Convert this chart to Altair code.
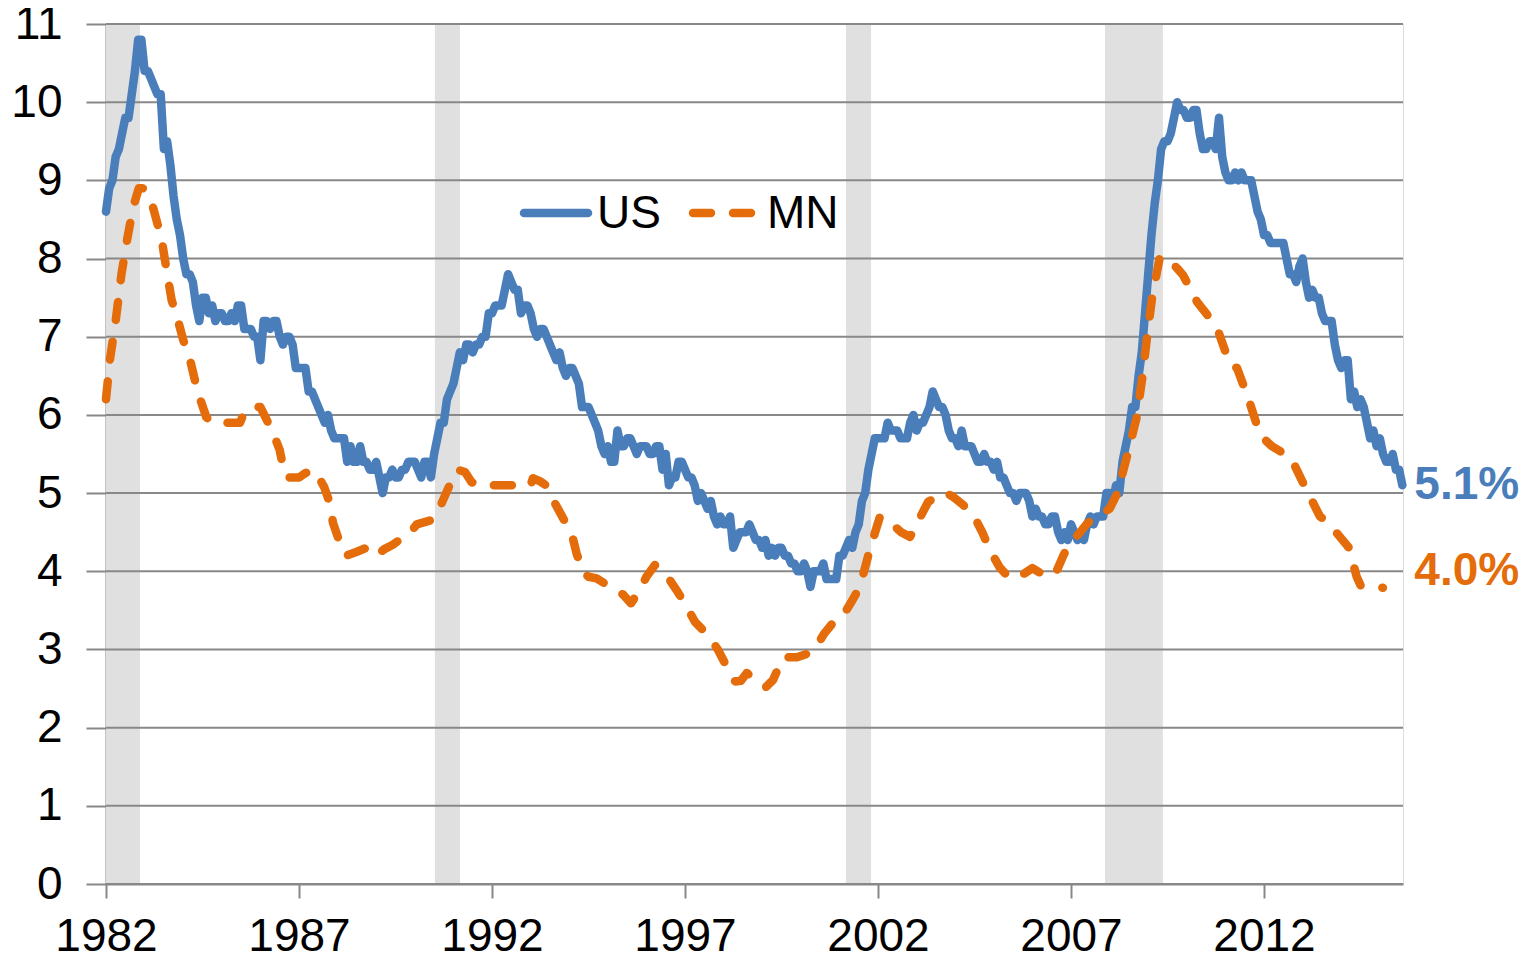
import altair as alt
import pandas as pd

# US unemployment rate, monthly, Jan 1982 - Aug 2015 (%)
us_rate = [
    8.6, 8.9, 9.0, 9.3, 9.4, 9.6, 9.8, 9.8, 10.1, 10.4, 10.8, 10.8,
    10.4, 10.4, 10.3, 10.2, 10.1, 10.1, 9.4, 9.5, 9.2, 8.8, 8.5, 8.3,
    8.0, 7.8, 7.8, 7.7, 7.4, 7.2, 7.5, 7.5, 7.3, 7.4, 7.2, 7.3,
    7.3, 7.2, 7.2, 7.3, 7.2, 7.4, 7.4, 7.1, 7.1, 7.1, 7.0, 7.0,
    6.7, 7.2, 7.2, 7.1, 7.2, 7.2, 7.0, 6.9, 7.0, 7.0, 6.9, 6.6,
    6.6, 6.6, 6.6, 6.3, 6.3, 6.2, 6.1, 6.0, 5.9, 6.0, 5.8, 5.7,
    5.7, 5.7, 5.7, 5.4, 5.6, 5.4, 5.4, 5.6, 5.4, 5.4, 5.3, 5.3,
    5.4, 5.2, 5.0, 5.2, 5.2, 5.3, 5.2, 5.2, 5.3, 5.3, 5.4, 5.4,
    5.4, 5.3, 5.2, 5.4, 5.4, 5.2, 5.5, 5.7, 5.9, 5.9, 6.2, 6.3,
    6.4, 6.6, 6.8, 6.7, 6.9, 6.9, 6.8, 6.9, 6.9, 7.0, 7.0, 7.3,
    7.3, 7.4, 7.4, 7.4, 7.6, 7.8, 7.7, 7.6, 7.6, 7.3, 7.4, 7.4,
    7.3, 7.1, 7.0, 7.1, 7.1, 7.0, 6.9, 6.8, 6.7, 6.8, 6.6, 6.5,
    6.6, 6.6, 6.5, 6.4, 6.1, 6.1, 6.1, 6.0, 5.9, 5.8, 5.6, 5.5,
    5.6, 5.4, 5.4, 5.8, 5.6, 5.6, 5.7, 5.7, 5.6, 5.5, 5.6, 5.6,
    5.6, 5.5, 5.5, 5.6, 5.6, 5.3, 5.5, 5.1, 5.2, 5.2, 5.4, 5.4,
    5.3, 5.2, 5.2, 5.1, 4.9, 5.0, 4.9, 4.8, 4.9, 4.7, 4.6, 4.7,
    4.6, 4.6, 4.7, 4.3, 4.4, 4.5, 4.5, 4.5, 4.6, 4.5, 4.4, 4.4,
    4.3, 4.4, 4.2, 4.3, 4.2, 4.3, 4.3, 4.2, 4.2, 4.1, 4.1, 4.0,
    4.0, 4.1, 4.0, 3.8, 4.0, 4.0, 4.0, 4.1, 3.9, 3.9, 3.9, 3.9,
    4.2, 4.2, 4.3, 4.4, 4.3, 4.5, 4.6, 4.9, 5.0, 5.3, 5.5, 5.7,
    5.7, 5.7, 5.7, 5.9, 5.8, 5.8, 5.8, 5.7, 5.7, 5.7, 5.9, 6.0,
    5.8, 5.9, 5.9, 6.0, 6.1, 6.3, 6.2, 6.1, 6.1, 6.0, 5.8, 5.7,
    5.7, 5.6, 5.8, 5.6, 5.6, 5.6, 5.5, 5.4, 5.4, 5.5, 5.4, 5.4,
    5.3, 5.4, 5.2, 5.2, 5.1, 5.0, 5.0, 4.9, 5.0, 5.0, 5.0, 4.9,
    4.7, 4.8, 4.7, 4.7, 4.6, 4.6, 4.7, 4.7, 4.5, 4.4, 4.5, 4.4,
    4.6, 4.5, 4.4, 4.5, 4.4, 4.6, 4.7, 4.6, 4.7, 4.7, 4.7, 5.0,
    5.0, 4.9, 5.1, 5.0, 5.4, 5.6, 5.8, 6.1, 6.1, 6.5, 6.8, 7.3,
    7.8, 8.3, 8.7, 9.0, 9.4, 9.5, 9.5, 9.6, 9.8, 10.0, 9.9, 9.9,
    9.8, 9.8, 9.9, 9.9, 9.6, 9.4, 9.4, 9.5, 9.5, 9.4, 9.8, 9.3,
    9.1, 9.0, 9.0, 9.1, 9.0, 9.1, 9.0, 9.0, 9.0, 8.8, 8.6, 8.5,
    8.3, 8.3, 8.2, 8.2, 8.2, 8.2, 8.2, 8.0, 7.8, 7.8, 7.7, 7.9,
    8.0, 7.7, 7.5, 7.6, 7.5, 7.5, 7.3, 7.2, 7.2, 7.2, 6.9, 6.7,
    6.6, 6.7, 6.7, 6.2, 6.3, 6.1, 6.2, 6.1, 5.9, 5.7, 5.8, 5.6,
    5.7, 5.5, 5.4, 5.4, 5.5, 5.3, 5.3, 5.1,
]
us_start_year = 1982

# Minnesota unemployment rate (decimal year, %)
mn_year = [
    1982.0, 1982.1, 1982.25, 1982.4, 1982.55, 1982.7, 1982.85, 1982.95,
    1983.1, 1983.22, 1983.44, 1983.57, 1983.7, 1983.87, 1984.0, 1984.18,
    1984.3, 1984.44, 1984.6, 1984.75, 1985.0, 1985.47, 1985.6, 1985.75,
    1986.0, 1986.1, 1986.33, 1986.5, 1986.62, 1986.7, 1987.0, 1987.15,
    1987.33, 1987.55, 1987.65, 1987.8, 1987.88, 1988.06, 1988.23, 1988.5,
    1988.75, 1989.0, 1989.2, 1989.43, 1989.6, 1989.79, 1990.05, 1990.4,
    1990.55, 1990.73, 1990.9, 1991.1, 1991.3, 1991.47, 1991.7, 1992.4,
    1993.0, 1993.06, 1993.25, 1993.4, 1993.63, 1993.84, 1994.06, 1994.19,
    1994.36, 1994.5, 1994.71, 1995.06, 1995.4, 1995.6, 1995.75, 1996.0,
    1996.22, 1996.4, 1996.52, 1996.78, 1997.04, 1997.26, 1997.56, 1997.85,
    1998.08, 1998.3, 1998.45, 1998.6, 1998.85, 1999.1, 1999.28, 1999.54,
    1999.9, 2000.2, 2000.4, 2000.6, 2000.93, 2001.1, 2001.3, 2001.53,
    2001.8, 2002.05, 2002.3, 2002.6, 2002.83, 2003.05, 2003.3, 2003.74,
    2003.95, 2004.2, 2004.47, 2004.7, 2004.9, 2005.15, 2005.37, 2005.6,
    2006.0, 2006.2, 2006.58, 2006.8, 2006.97, 2007.1, 2007.4, 2007.57,
    2007.75, 2008.0, 2008.2, 2008.45, 2008.7, 2008.85, 2008.97, 2009.1,
    2009.3, 2009.5, 2009.74, 2009.9, 2010.26, 2010.5, 2010.8, 2011.12,
    2011.3, 2011.58, 2011.9, 2012.2, 2012.5, 2012.7, 2013.06, 2013.45,
    2013.65, 2014.1, 2014.2, 2014.4, 2014.5, 2014.8, 2015.08,
]
mn_rate = [
    6.2, 6.7, 7.2, 7.8, 8.25, 8.65, 8.9, 8.9,
    8.8, 8.65, 8.25, 7.85, 7.47, 7.2, 6.96, 6.7,
    6.45, 6.2, 5.97, 5.9, 5.9, 5.9, 6.05, 6.1,
    6.1, 6.0, 5.77, 5.55, 5.26, 5.2, 5.2, 5.25,
    5.3, 5.17, 5.08, 4.87, 4.62, 4.36, 4.2, 4.25,
    4.3, 4.2, 4.28, 4.34, 4.4, 4.44, 4.6, 4.65,
    4.7, 4.91, 5.1, 5.3, 5.27, 5.14, 5.1, 5.1,
    5.1, 5.19, 5.15, 5.1, 4.87, 4.68, 4.49, 4.23,
    3.98, 3.93, 3.91, 3.8, 3.7, 3.59, 3.7, 3.93,
    4.08, 4.0, 3.95, 3.76, 3.55, 3.35, 3.2, 3.0,
    2.78, 2.59, 2.6, 2.7, 2.6, 2.52, 2.61, 2.9,
    2.9, 2.95, 3.03, 3.2, 3.4, 3.44, 3.6, 3.8,
    4.3, 4.7, 4.63, 4.5, 4.44, 4.65, 4.89, 5.01,
    4.95, 4.85, 4.72, 4.5, 4.27, 4.05, 3.93, 3.91,
    4.04, 3.98, 3.95, 4.2, 4.37, 4.42, 4.6, 4.68,
    4.72, 4.8, 5.0, 5.47, 5.97, 6.49, 7.0, 7.5,
    8.02, 8.0, 7.88, 7.79, 7.45, 7.3, 7.09, 6.64,
    6.6, 6.23, 5.74, 5.6, 5.51, 5.45, 5.08, 4.7,
    4.63, 4.36, 4.3, 3.93, 3.82, 3.8, 3.79,
]

# Recession periods (decimal years)
rec_start = [1982.0, 1990.52, 2001.17, 2007.88]
rec_end = [1982.88, 1991.17, 2001.82, 2009.38]

x_ticks = [1982, 1987, 1992, 1997, 2002, 2007, 2012]
y_ticks = list(range(0, 12))
end_labels = ["5.1%", "4.0%"]
end_values = [5.1, 4.0]
series_names = ["US", "MN"]

BLUE = "#4A7EBB"
ORANGE = "#E46C0A"
GRID = "#888888"
FONT = "Liberation Sans"
FS = 46
LW = 8.5
DASH = [18, 22]

us_df = pd.DataFrame({
    "year": [us_start_year + i / 12 for i in range(len(us_rate))],
    "rate": us_rate,
})
mn_df = pd.DataFrame({"year": mn_year, "rate": mn_rate})
rec_df = pd.DataFrame({"start": rec_start, "end": rec_end})
grid_df = pd.DataFrame({"y": y_ticks})
end_df = pd.DataFrame({
    "year": [us_df["year"].iloc[-1]] * 2,
    "rate": end_values,
    "label": end_labels,
    "color": [BLUE, ORANGE],
})

x_scale = alt.Scale(domain=[1982, 2015.6], nice=False, zero=False)
y_scale = alt.Scale(domain=[0, 11], nice=False)

x_axis = alt.Axis(values=x_ticks, format="d", title=None, grid=False,
                  labelFontSize=FS, labelFont=FONT, labelColor="black",
                  tickSize=14, tickColor=GRID, tickWidth=2,
                  domainColor=GRID, domainWidth=2, labelPadding=16,
                  labelFlush=False, labelOverlap=False)
y_axis = alt.Axis(values=y_ticks, format="d", title=None, grid=False,
                  labelFontSize=FS, labelFont=FONT, labelColor="black",
                  tickSize=20, tickColor=GRID, tickWidth=2,
                  domainColor=GRID, domainWidth=2, labelPadding=24)

rects = alt.Chart(rec_df).mark_rect(color="#E0E0E0").encode(
    x=alt.X("start:Q", scale=x_scale, axis=x_axis),
    x2="end:Q",
)

grid = alt.Chart(grid_df).mark_rule(color=GRID, strokeWidth=2).encode(
    y=alt.Y("y:Q", scale=y_scale, axis=y_axis),
)

us_line = alt.Chart(us_df).mark_line(
    color=BLUE, strokeWidth=LW, strokeJoin="round", strokeCap="round"
).encode(
    x=alt.X("year:Q", scale=x_scale),
    y=alt.Y("rate:Q", scale=y_scale),
)

mn_line = alt.Chart(mn_df).mark_line(
    color=ORANGE, strokeWidth=LW, strokeDash=DASH, strokeCap="round",
    strokeJoin="round"
).encode(
    x=alt.X("year:Q", scale=x_scale),
    y=alt.Y("rate:Q", scale=y_scale),
)

end_text = alt.Chart(end_df).mark_text(
    align="left", baseline="middle", dx=12, fontSize=FS, fontWeight="bold",
    font=FONT
).encode(
    x=alt.X("year:Q", scale=x_scale),
    y=alt.Y("rate:Q", scale=y_scale),
    text="label:N",
    color=alt.Color("color:N", scale=None),
)

# Legend drawn inside the plot
leg_us_line = alt.Chart(pd.DataFrame({"n": [series_names[0]]})).mark_rule(
    color=BLUE, strokeWidth=LW, strokeCap="round"
).encode(x=alt.value(418), x2=alt.value(482), y=alt.value(189))
leg_us_text = alt.Chart(pd.DataFrame({"n": [series_names[0]]})).mark_text(
    align="left", baseline="middle", fontSize=FS, font=FONT, color="black"
).encode(x=alt.value(491), y=alt.value(190), text="n:N")
leg_mn_line = alt.Chart(pd.DataFrame({"n": [series_names[1]]})).mark_rule(
    color=ORANGE, strokeWidth=LW, strokeCap="round", strokeDash=DASH
).encode(x=alt.value(587), x2=alt.value(650), y=alt.value(189))
leg_mn_text = alt.Chart(pd.DataFrame({"n": [series_names[1]]})).mark_text(
    align="left", baseline="middle", fontSize=FS, font=FONT, color="black"
).encode(x=alt.value(661), y=alt.value(190), text="n:N")

chart = alt.layer(
    rects, grid, us_line, mn_line, end_text,
    leg_us_line, leg_us_text, leg_mn_line, leg_mn_text,
).properties(
    width=1297, height=860,
    autosize=alt.AutoSizeParams(type="none"),
    padding={"left": 98, "top": 16, "right": 125, "bottom": 75},
).configure_view(
    stroke=GRID, strokeWidth=2
).configure(background="white")

chart.save("out.html", embed_options={"renderer": "svg", "actions": False})
